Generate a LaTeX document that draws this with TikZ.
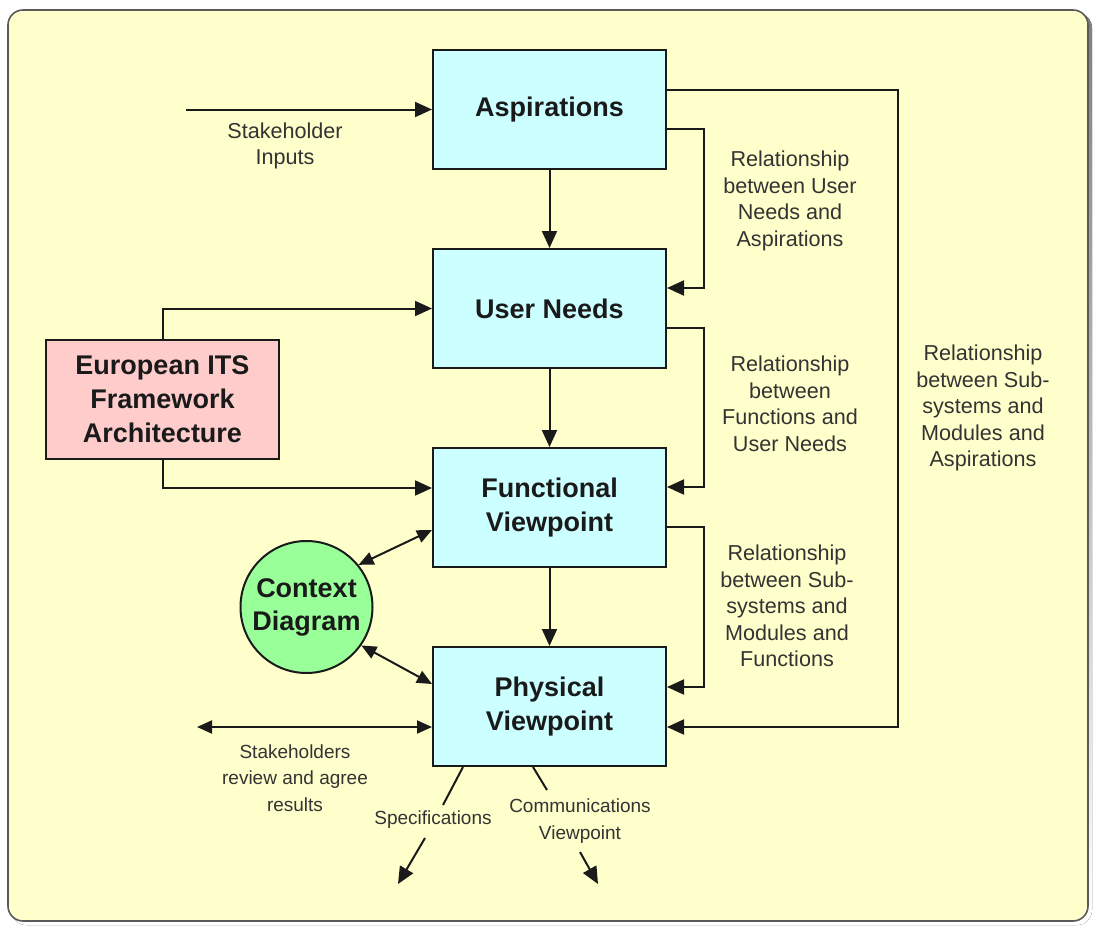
\documentclass[tikz,border=0pt]{standalone}
\usepackage{fontspec}
\setmainfont{Liberation Sans}
\usetikzlibrary{arrows.meta}

\definecolor{panel}{HTML}{FFFFCC}
\definecolor{stagefill}{HTML}{CCFFFF}
\definecolor{eurofill}{HTML}{FFCCCC}
\definecolor{ctxfill}{HTML}{99FF99}
\definecolor{ink}{HTML}{1A1A1A}
\definecolor{note}{HTML}{333333}
\definecolor{rim}{HTML}{5A5A5A}
\definecolor{shade}{HTML}{3C3C3C}

\begin{document}
\begin{tikzpicture}[x=1pt,y=-1pt,
  stagebox/.style={draw=ink, line width=2pt, fill=stagefill,
    minimum width=233pt, minimum height=119pt, inner sep=0pt,
    align=center, text=ink, font=\fontsize{27}{34}\selectfont\bfseries},
  eurobox/.style={stagebox, fill=eurofill},
  ctxbox/.style={circle, draw=ink, line width=2pt, fill=ctxfill,
    minimum size=132pt, inner sep=0pt,
    align=center, text=ink, font=\fontsize{27}{33}\selectfont\bfseries},
  note/.style={align=center, text=note, inner sep=0pt,
    font=\fontsize{21.6}{26.5}\selectfont},
  smallnote/.style={note, font=\fontsize{19}{26.5}\selectfont},
  plainline/.style={draw=ink, line width=2pt},
  conn/.style={plainline, -{Triangle[length=17pt,width=15pt]}},
  dconn/.style={plainline, {Triangle[length=15pt,width=13pt]}-{Triangle[length=15pt,width=13pt]}}
]
\useasboundingbox (0,0) rectangle (1093,926);

% background panel with its drop shadow
\fill[shade, rounded corners=15pt] (11,13) rectangle (1092,925);
\draw[rim, line width=1.6pt, fill=panel, rounded corners=15pt] (8,10) rectangle (1088,921);

% main stages
\node[stagebox] (asp)  at (549.5,109.5) {Aspirations};
\node[stagebox] (need) at (549.5,308.5) {User Needs};
\node[stagebox] (func) at (549.5,507.5) {Functional\\Viewpoint};
\node[stagebox] (phys) at (549.5,706.5) {Physical\\Viewpoint};

% side elements
\node[eurobox] (euro) at (162.5,399.5) {European ITS\\Framework\\Architecture};
\node[ctxbox]  (ctx)  at (306.5,607) {Context\\Diagram};

% free ends
\coordinate (sin)    at (186,109.5);
\coordinate (rev)    at (197,727);
\coordinate (spcA)   at (443,805);
\coordinate (spcB)   at (425,838);
\coordinate (spcEnd) at (398,884);
\coordinate (comA)   at (547,790);
\coordinate (comB)   at (580,852);
\coordinate (comEnd) at (598,884);

% downward flow
\draw[conn] (asp) -- (need);
\draw[conn] (need) -- (func);
\draw[conn] (func) -- (phys);

% stakeholder inputs
\draw[conn] (sin) -- (asp.west);
\node[note] (sinlbl) at (285,146) {Stakeholder\\Inputs};

% relationship loops on the right
\draw[conn] ([yshift=-19.5pt]asp.east) -| (704,288) -- ([yshift=20.5pt]need.east);
\draw[conn] ([yshift=-19.5pt]need.east) -| (704,487) -- ([yshift=20.5pt]func.east);
\draw[conn] ([yshift=-19.5pt]func.east) -| (704,687) -- ([yshift=19.5pt]phys.east);
\draw[conn] ([yshift=19.5pt]asp.east) -| (898,727) -- ([yshift=-20.5pt]phys.east);

\node[note] (rel1) at (790,201) {Relationship\\between User\\Needs and\\Aspirations};
\node[note] (rel2) at (790,404) {Relationship\\between\\Functions and\\User Needs};
\node[note] (rel3) at (787,606) {Relationship\\between Sub-\\systems and\\Modules and\\Functions};
\node[note] (rel4) at (983,408) {Relationship\\between Sub-\\systems and\\Modules and\\Aspirations};

% framework architecture feeds
\draw[conn] (euro.north) |- (need.west);
\draw[conn] (euro.south) |- ([yshift=19.5pt]func.west);

% context diagram links
\draw[dconn] (ctx.39) -- ([yshift=-22.5pt]func.west);
\draw[dconn] (ctx.-35) -- ([yshift=22.5pt]phys.west);

% stakeholder review
\draw[dconn] (rev) -- ([yshift=-20.5pt]phys.west);
\node[smallnote] (revlbl) at (295,778) {Stakeholders\\review and agree\\results};

% outputs of the physical viewpoint
\draw[plainline] ([xshift=-86.5pt]phys.south) -- (spcA);
\draw[conn] (spcB) -- (spcEnd);
\node[smallnote] (spclbl) at (433,820) {Specifications};

\draw[plainline] ([xshift=-16.5pt]phys.south) -- (comA);
\draw[conn] (comB) -- (comEnd);
\node[smallnote] (comlbl) at (580,821) {Communications\\Viewpoint};
\end{tikzpicture}
\end{document}
